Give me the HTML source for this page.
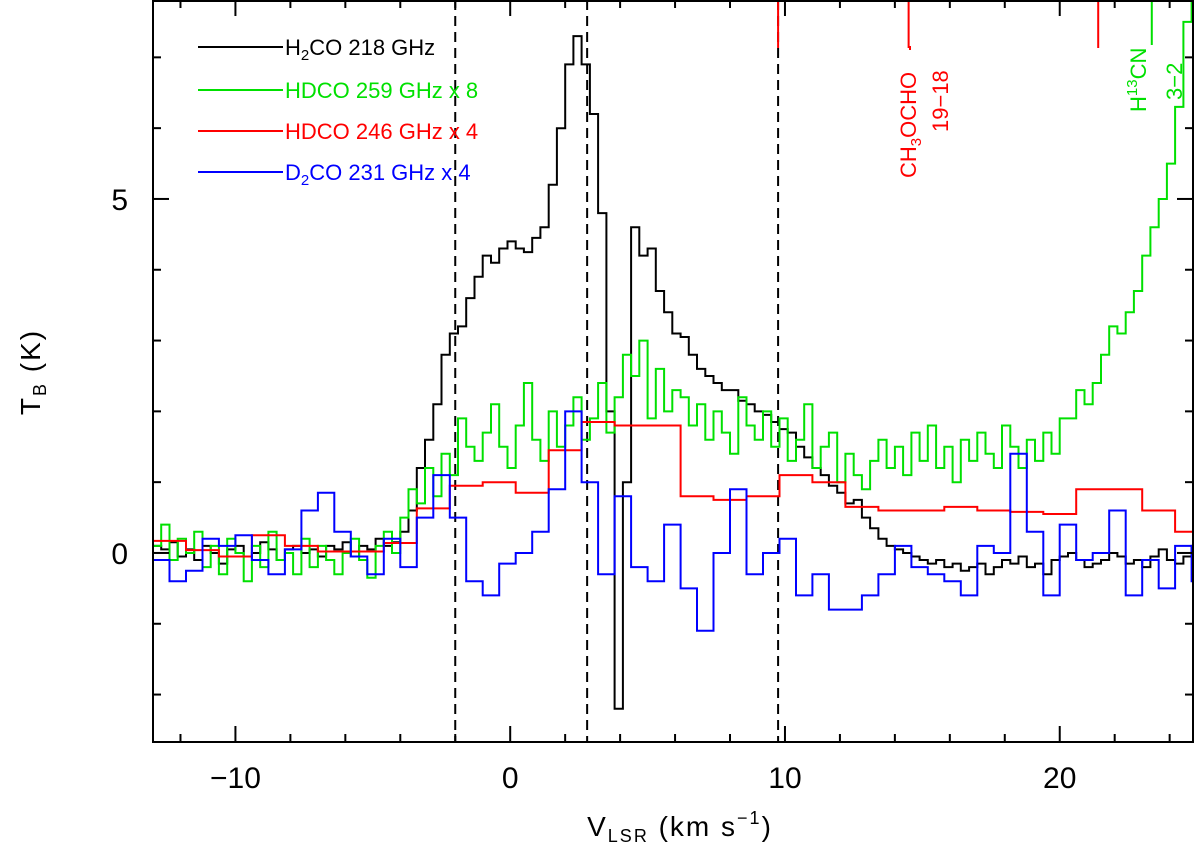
<!DOCTYPE html>
<html><head><meta charset="utf-8"><style>
html,body{margin:0;padding:0;background:#fff}
svg{display:block;font-family:"Liberation Sans",sans-serif}
</style></head><body>
<svg id="chart" width="1200" height="852" viewBox="0 0 1200 852">
<g id="series"></g>
<g id="axes"></g>
</svg>
<script>
// ---- data ----
const xDomain = [-13, 24.85];
const yDomain = [-2.67, 7.81];
const xTicks = [-10, 0, 10, 20];
const xTickLabels = ["\u221210", "0", "10", "20"];
const yTicks = [0, 5];
const yTickLabels = ["0", "5"];
const dashedVelocities = [-2.0, 2.8, 9.75];

const blackStart = -13, blackStep = 0.3;
const blackValues = [0.1,0.05,0.15,-0.05,0.05,-0.1,0.1,0,-0.15,0.05,0.1,-0.05,0,0.15,0.05,-0.1,0.05,0.1,0,0.05,-0.05,0.1,0.05,0.15,-0.05,0.1,0.05,0.2,0.1,0.15,
0.3,0.6,1.2,1.6,2.1,2.8,3.1,3.2,3.6,3.9,4.2,4.1,4.3,4.4,4.3,4.25,4.45,4.6,5.2,6.0,6.9,7.3,6.9,6.2,4.8,2.0,-2.2,1.0,4.6,4.2,4.3,3.7,3.4,3.1,3.05,2.8,2.6,2.5,2.4,2.3,2.3,2.15,2.1,2.0,1.95,1.85,1.75,1.7,1.5,1.35,1.2,1.1,0.95,0.85,0.7,0.75,0.5,0.35,0.2,0.1,0.05,
0.0,-0.05,-0.1,-0.15,-0.1,-0.2,-0.15,-0.25,-0.2,-0.15,-0.3,-0.2,-0.1,-0.15,-0.05,-0.2,-0.15,-0.3,-0.1,-0.05,0.0,-0.1,-0.2,-0.15,-0.1,0.0,-0.05,-0.15,-0.1,-0.2,-0.05,0.05,-0.1,-0.15,-0.05,0.1];

const greenStart = -13, greenStep = 0.3;
const greenValues = [0.1,0.4,-0.1,0.2,0,0.3,-0.2,0.1,-0.3,0.2,0,-0.4,0.1,-0.2,0.3,-0.1,0,-0.3,0.2,-0.2,0.1,-0.1,-0.3,0,0.2,-0.1,-0.35,0.1,0.3,0.0,
0.5,0.9,0.7,1.2,0.8,1.4,1.1,1.9,1.5,1.3,1.7,2.1,1.5,1.2,1.8,2.4,1.6,1.3,2.0,1.5,1.8,2.2,1.6,1.9,2.4,1.7,2.2,2.8,2.5,3.0,1.9,2.6,2.0,2.3,2.2,1.8,2.1,1.6,2.0,1.7,1.4,2.2,1.8,1.6,2.0,1.5,
1.9,1.3,1.6,2.1,1.2,1.5,1.7,1.0,1.4,1.1,0.9,1.3,1.6,1.2,1.5,1.1,1.7,1.3,1.8,1.2,1.5,1.0,1.6,1.3,1.7,1.4,1.2,1.8,1.5,
1.2,1.6,1.3,1.7,1.4,1.9,
1.9,2.3,2.1,2.4,2.8,3.2,3.1,3.4,3.7,4.2,4.6,5.0,5.5,6.3,7.5,8.0,8.0];

const redStart = -13, redStep = 1.2;
const redValues = [0.17,0.04,-0.05,0.25,0.1,0.02,0.02,0.14,0.63,0.95,1.0,0.85,1.45,1.85,1.8,1.8,0.8,0.75,0.8,1.1,1.0,0.65,0.6,0.6,0.65,0.6,0.58,0.55,0.9,0.9,0.6,0.3];

const blueStart = -13, blueStep = 0.6;
const blueValues = [-0.1,-0.4,-0.25,0.2,0.1,0.25,-0.1,-0.3,0.05,0.6,0.85,0.3,-0.05,-0.3,0.2,-0.2,0.5,1.1,0.5,-0.4,-0.6,-0.15,0.0,0.3,0.9,2.0,1.0,-0.3,0.8,-0.2,-0.4,0.4,-0.5,-1.1,0.0,0.9,-0.3,0.0,0.2,-0.6,-0.3,-0.8,-0.8,-0.6,-0.3,0.1,-0.2,-0.3,-0.4,-0.6,0.1,0.0,1.4,0.3,-0.6,0.4,-0.1,0.0,0.6,-0.6,-0.1,-0.5,0.1,-0.4];

// ---- layout ----
const L = 153, R = 1193, T = 0, B = 742;
const sx = v => L + (v - xDomain[0]) / (xDomain[1] - xDomain[0]) * (R - L);
const sy = k => B - (k - yDomain[0]) / (yDomain[1] - yDomain[0]) * (B - T);
const NS = "http://www.w3.org/2000/svg";
const seriesG = document.getElementById('series');
const axesG = document.getElementById('axes');
function mk(tag, attrs, parent) {
  const e = document.createElementNS(NS, tag);
  for (const k in attrs) e.setAttribute(k, attrs[k]);
  parent.appendChild(e);
  return e;
}
function stepPath(start, step, vals) {
  let d = "";
  vals.forEach((v, i) => {
    const x0 = Math.max(L, sx(start + i * step)), x1 = Math.min(R, sx(start + (i + 1) * step));
    if (x0 > R) return;
    const y = Math.max(T, sy(v));
    d += (d === "" ? "M" : "L") + x0.toFixed(1) + "," + y.toFixed(1) + "L" + x1.toFixed(1) + "," + y.toFixed(1);
  });
  return d;
}
const clip = mk('clipPath', {id: 'pc'}, mk('defs', {}, seriesG));
mk('rect', {x: L, y: T, width: R - L, height: B - T}, clip);

dashedVelocities.forEach(v => {
  const l = mk('line', {x1: sx(v), x2: sx(v), y1: T, y2: B, stroke: '#000', 'stroke-width': 2, 'stroke-dasharray': '10,6'}, seriesG);
  
  
});

const sets = [
  ['series-h2co-218', blackStart, blackStep, blackValues, '#000'],
  ['series-hdco-246', redStart, redStep, redValues, '#ff0000'],
  ['series-hdco-259', greenStart, greenStep, greenValues, '#00e000'],
  ['series-d2co-231', blueStart, blueStep, blueValues, '#0000ff']
];
const order = [0, 2, 1, 3];
order.forEach(i => {
  const s = sets[i];
  const p = mk('path', {d: stepPath(s[1], s[2], s[3]), fill: 'none', stroke: s[4], 'stroke-width': 2, 'clip-path': 'url(#pc)'}, seriesG);
  
  
});

[[9.75, '#ff0000', 48], [14.5, '#ff0000', 48], [21.4, '#ff0000', 48], [23.35, '#00e000', 45]].forEach(m => {
  const l = mk('line', {x1: sx(m[0]), x2: sx(m[0]), y1: T, y2: m[2], stroke: m[1], 'stroke-width': 2}, seriesG);
  
  
});

const fr = mk('rect', {x: L, y: T + 1, width: R - L, height: B - T - 1, fill: 'none', stroke: '#000', 'stroke-width': 2}, axesG);


for (let v = -12; v <= 24; v += 2) {
  const major = v % 10 === 0, len = major ? 16 : 8;
  mk('line', {x1: sx(v), x2: sx(v), y1: B, y2: B - len, stroke: '#000', 'stroke-width': 2}, axesG);
  mk('line', {x1: sx(v), x2: sx(v), y1: T, y2: T + len, stroke: '#000', 'stroke-width': 2}, axesG);
}
for (let k = -2; k <= 7; k++) {
  const major = k % 5 === 0, len = major ? 16 : 8;
  mk('line', {x1: L, x2: L + len, y1: sy(k), y2: sy(k), stroke: '#000', 'stroke-width': 2}, axesG);
  mk('line', {x1: R, x2: R - len, y1: sy(k), y2: sy(k), stroke: '#000', 'stroke-width': 2}, axesG);
}
xTicks.forEach((v, i) => {
  const t = mk('text', {x: sx(v), y: 788, 'font-size': 30, 'text-anchor': 'middle', fill: '#000'}, axesG);
  t.textContent = xTickLabels[i];
  
  
});
yTicks.forEach((k, i) => {
  const t = mk('text', {x: 128, y: sy(k) + 11, 'font-size': 30, 'text-anchor': 'end', fill: '#000'}, axesG);
  t.textContent = yTickLabels[i];
  
  
});
</script>
<svg width="1200" height="852" style="position:absolute;left:0;top:0">
 <g font-family="Liberation Sans, sans-serif">
  <text x="680" y="836" font-size="28" text-anchor="middle" letter-spacing="2">V<tspan font-size="18" dy="6">LSR</tspan><tspan dy="-6"> (km s</tspan><tspan font-size="18" dy="-12">−1</tspan><tspan dy="12">)</tspan></text>
  <text transform="translate(40,372) rotate(-90)" font-size="28" text-anchor="middle" letter-spacing="2">T<tspan font-size="18" dy="6">B</tspan><tspan dy="-6"> (K)</tspan></text>
  <g font-size="22">
   <line x1="198" y1="47" x2="283" y2="47" stroke="#000" stroke-width="2"/>
   <text x="285" y="55" fill="#000">H<tspan font-size="15" dy="5">2</tspan><tspan dy="-5">CO 218 GHz</tspan></text>
   <line x1="198" y1="90" x2="283" y2="90" stroke="#00e000" stroke-width="2"/>
   <text x="285" y="98" fill="#00e000">HDCO 259 GHz x 8</text>
   <line x1="198" y1="131" x2="283" y2="131" stroke="#ff0000" stroke-width="2"/>
   <text x="285" y="139" fill="#ff0000">HDCO 246 GHz x 4</text>
   <line x1="198" y1="172" x2="283" y2="172" stroke="#0000ff" stroke-width="2"/>
   <text x="285" y="180" fill="#0000ff">D<tspan font-size="15" dy="5">2</tspan><tspan dy="-5">CO 231 GHz x 4</tspan></text>
  </g>
  <text transform="translate(916,178) rotate(-90)" font-size="22" fill="#ff0000">CH<tspan font-size="15" dy="5">3</tspan><tspan dy="-5">OCHO</tspan></text>
  <line x1="910" y1="46" x2="910" y2="50" stroke="#ff0000" stroke-width="2"/>
  <text transform="translate(948,132) rotate(-90)" font-size="22" fill="#ff0000">19−18</text>
  <text transform="translate(1146,112) rotate(-90)" font-size="22" fill="#00e000">H<tspan font-size="15" dy="-9">13</tspan><tspan dy="9">CN</tspan></text>
  <text transform="translate(1182,100) rotate(-90)" font-size="22" fill="#00e000">3−2</text>
 </g>
</svg>
</body></html>
